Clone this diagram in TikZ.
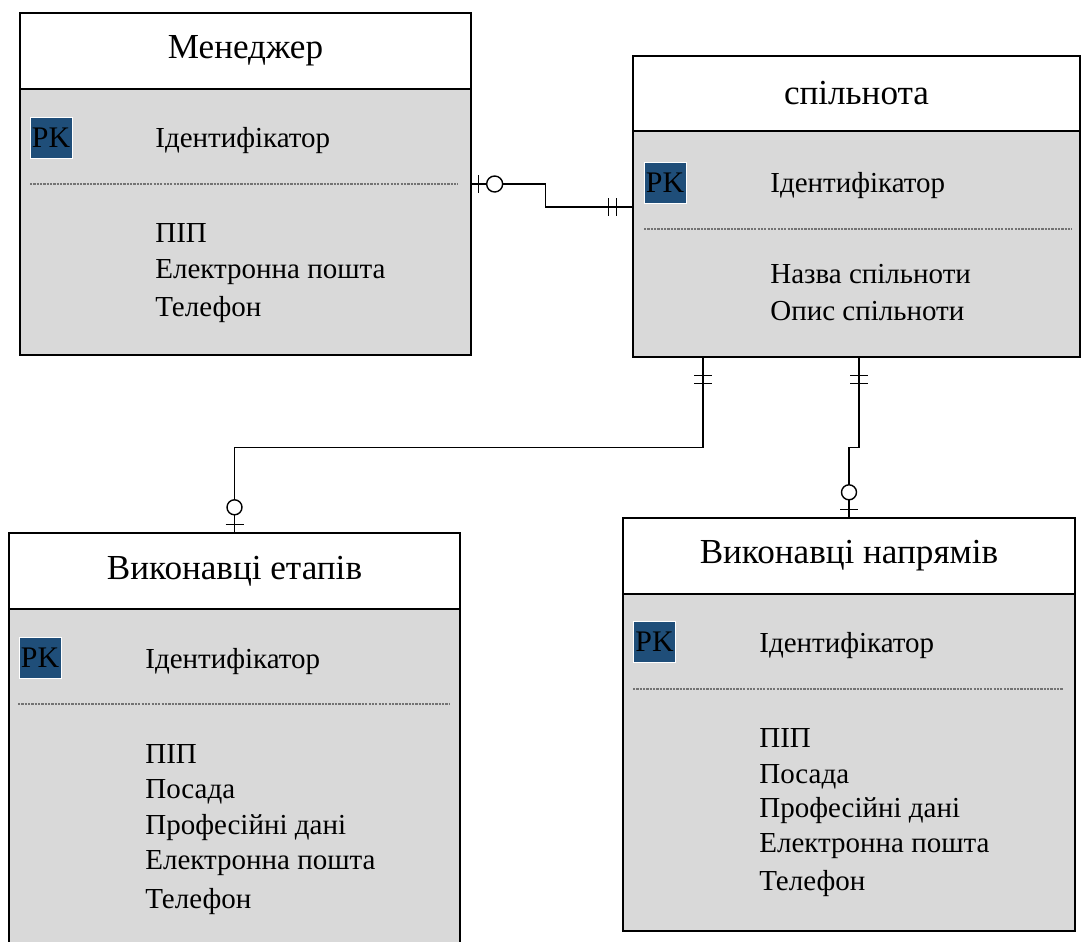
\documentclass[tikz,border=0pt]{standalone}
\usepackage{fontspec}
\setmainfont{Liberation Serif}
\definecolor{pkblue}{RGB}{31,78,121}
\definecolor{bodygray}{RGB}{217,217,217}
\tikzset{
  entitytitle/.style={draw, line width=0.8pt, fill=white, minimum height=1.52cm, inner sep=0pt, font=\fontsize{20}{24}\selectfont},
  entitybody/.style={draw, line width=0.8pt, fill=bodygray, inner sep=0pt},
  pkbox/.style={draw=white, line width=0.5pt, fill=pkblue, minimum width=0.84cm, minimum height=0.82cm, inner sep=0pt, font=\fontsize{17}{20}\selectfont},
  attr/.style={anchor=base west, inner sep=0pt, font=\fontsize{16.5}{19}\selectfont},
  sepline/.style={black!55, line width=0.9pt, dash pattern=on 1.3pt off 0.6pt},
  rel/.style={line width=0.8pt},
}
\begin{document}
\begin{tikzpicture}[x=0.02cm, y=-0.02cm]
        \clip (0,0) rectangle (1082,942);

        % Менеджер
        \node[entitybody, minimum width=9.02cm, minimum height=5.32cm] (menb) at (245.5,222) {};
        \node[entitytitle, minimum width=9.02cm] (menh) at (245.5,51) {Менеджер};
        \node[pkbox] (menpk) at (51,137.5) {PK};
        \node[attr] (menid) at (155,148) {Ідентифікатор};
        \draw[sepline] (30,184) -- (458,184);
        \node[attr] (mena1) at (155,243) {ПІП};
        \node[attr] (mena2) at (155,279) {Електронна пошта};
        \node[attr] (mena3) at (155,317) {Телефон};

        % спільнота
        \node[entitybody, minimum width=8.94cm, minimum height=4.52cm] (spb) at (856.5,244) {};
        \node[entitytitle, minimum width=8.94cm, minimum height=1.5cm] (sph) at (856.5,93.5) {спільнота};
        \node[pkbox] (sppk) at (665,182.5) {PK};
        \node[attr] (spid) at (770,193) {Ідентифікатор};
        \draw[sepline] (644,229) -- (1072,229);
        \node[attr] (spa1) at (770,284) {Назва спільноти};
        \node[attr] (spa2) at (770,321) {Опис спільноти};

        % Виконавці етапів
        \node[entitybody, minimum width=9.02cm, minimum height=7.82cm] (veb) at (234.5,804.5) {};
        \node[entitytitle, minimum width=9.02cm] (veh) at (234.5,571) {Виконавці етапів};
        \node[pkbox] (vepk) at (40,657.5) {PK};
        \node[attr] (veid) at (145,668) {Ідентифікатор};
        \draw[sepline] (18,704) -- (450,704);
        \node[attr] (vea1) at (145,763) {ПІП};
        \node[attr] (vea2) at (145,798) {Посада};
        \node[attr] (vea3) at (145,834) {Професійні дані};
        \node[attr] (vea4) at (145,869) {Електронна пошта};
        \node[attr] (vea5) at (145,908) {Телефон};

        % Виконавці напрямів
        \node[entitybody, minimum width=9.04cm, minimum height=6.74cm] (vnb) at (849,762.5) {};
        \node[entitytitle, minimum width=9.04cm] (vnh) at (849,556) {Виконавці напрямів};
        \node[pkbox] (vnpk) at (654.5,641.5) {PK};
        \node[attr] (vnid) at (759,652) {Ідентифікатор};
        \draw[sepline] (633,689) -- (1063,689);
        \node[attr] (vna1) at (759,747) {ПІП};
        \node[attr] (vna2) at (759,783) {Посада};
        \node[attr] (vna3) at (759,817) {Професійні дані};
        \node[attr] (vna4) at (759,852) {Електронна пошта};
        \node[attr] (vna5) at (759,890) {Телефон};

        % Менеджер -- спільнота
        \draw[rel] ([yshift=0.76cm]menb.east) -- ++(74,0) |- ([yshift=0.74cm]spb.west);
        \draw[rel] ([yshift=0.76cm]menb.east) ++(7,-9) -- ++(0,18);
        \draw[rel, fill=white] ([yshift=0.76cm]menb.east) ++(23,0) circle[radius=0.16cm];
        \draw[rel] ([yshift=0.74cm]spb.west) ++(-24,-9) -- ++(0,18);
        \draw[rel] ([yshift=0.74cm]spb.west) ++(-16,-9) -- ++(0,18);

        % спільнота -- Виконавці етапів
        \draw[rel] ([xshift=-3.07cm]spb.south) -- ++(0,90) -| (veh.north);
        \draw[rel] ([xshift=-3.07cm]spb.south) ++(-9,18) -- ++(18,0);
        \draw[rel] ([xshift=-3.07cm]spb.south) ++(-9,26) -- ++(18,0);
        \draw[rel, fill=white] (veh.north) ++(0,-25) circle[radius=0.15cm];
        \draw[rel] (veh.north) ++(-9,-8) -- ++(18,0);

        % спільнота -- Виконавці напрямів
        \draw[rel] ([xshift=0.05cm]spb.south) -- ++(0,90) -| (vnh.north);
        \draw[rel] ([xshift=0.05cm]spb.south) ++(-9,18) -- ++(18,0);
        \draw[rel] ([xshift=0.05cm]spb.south) ++(-9,26) -- ++(18,0);
        \draw[rel, fill=white] (vnh.north) ++(0,-25) circle[radius=0.15cm];
        \draw[rel] (vnh.north) ++(-9,-8) -- ++(18,0);
    \end{tikzpicture}
\end{document}
